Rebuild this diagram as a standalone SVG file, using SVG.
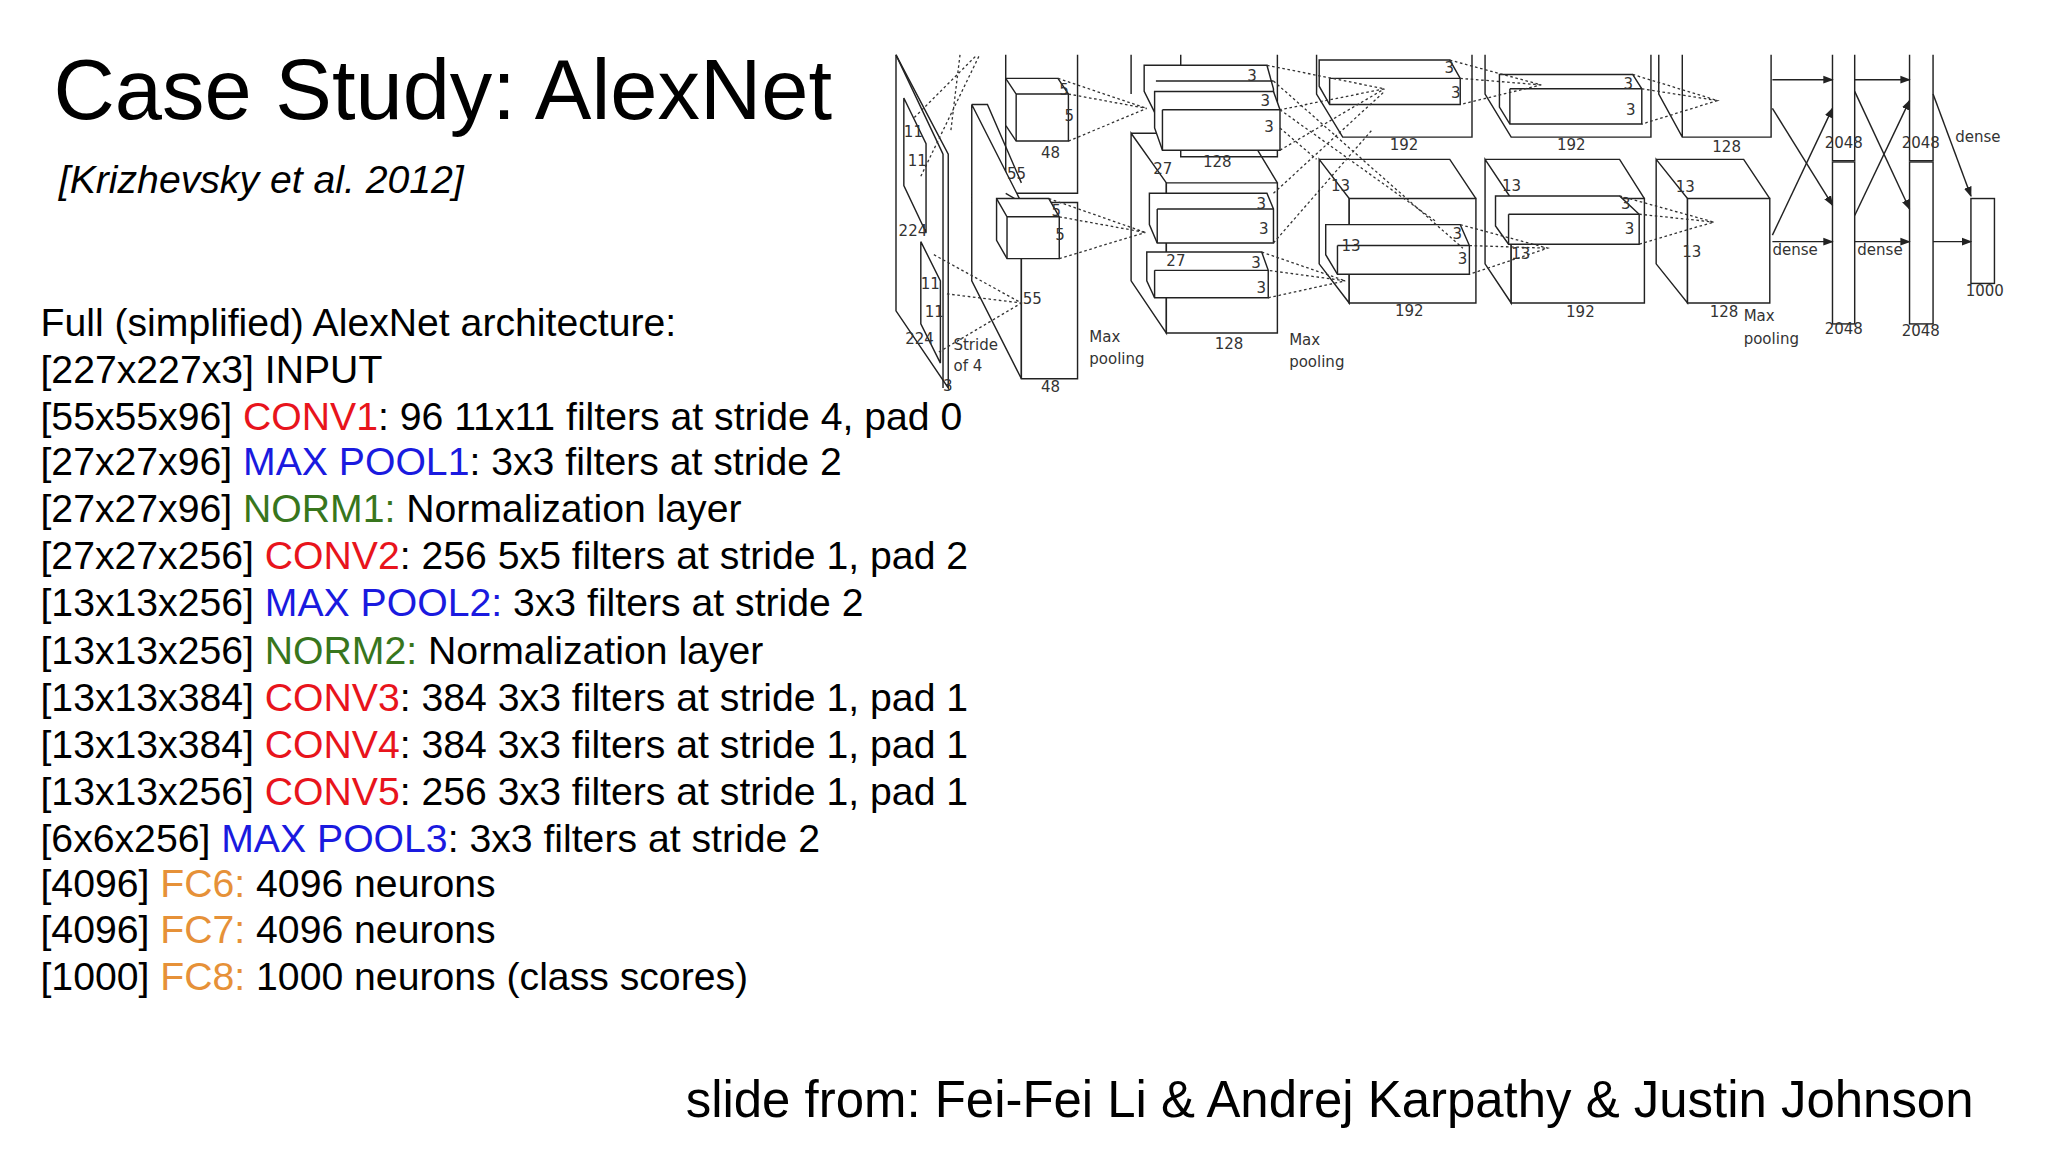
<svg xmlns="http://www.w3.org/2000/svg" width="2048" height="1152" viewBox="0 0 2048 1152">
<style>
.t{font-family:"Liberation Sans",Arial,sans-serif;fill:#000}
.r{fill:#e8141c}.b{fill:#1a1adf}.g{fill:#38761d}.o{fill:#e69138}
.s{fill:#fff;stroke:#222;stroke-width:1.1}
.l{fill:none;stroke:#222;stroke-width:1.1}
.d{fill:none;stroke:#333;stroke-width:1;stroke-dasharray:2 2}
.a{fill:none;stroke:#222;stroke-width:1.1;marker-end:url(#ah)}
.n{font-family:"DejaVu Sans",sans-serif;font-size:11.5px;fill:#333}
</style>
<defs><marker id="ah" markerWidth="8" markerHeight="8" refX="7" refY="4" orient="auto" markerUnits="userSpaceOnUse"><path d="M0,1 L8,4 L0,7 z" fill="#222"/></marker></defs>
<rect width="2048" height="1152" fill="#fff"/>
<g transform="scale(1.30612)">
<g id="title"><text class="t" x="41" y="91" font-size="65">Case Study: AlexNet</text>
<text class="t" x="45" y="148" font-size="30" font-style="italic">[Krizhevsky et al. 2012]</text></g>
<g id="list" class="t" font-size="30">
<text x="31" y="257">Full (simplified) AlexNet architecture:</text>
<text x="31" y="293">[227x227x3] INPUT</text>
<text x="31" y="329">[55x55x96] <tspan class="r">CONV1</tspan>: 96 11x11 filters at stride 4, pad 0</text>
<text x="31" y="364">[27x27x96] <tspan class="b">MAX POOL1</tspan>: 3x3 filters at stride 2</text>
<text x="31" y="400">[27x27x96] <tspan class="g">NORM1:</tspan> Normalization layer</text>
<text x="31" y="436">[27x27x256] <tspan class="r">CONV2</tspan>: 256 5x5 filters at stride 1, pad 2</text>
<text x="31" y="472">[13x13x256] <tspan class="b">MAX POOL2:</tspan> 3x3 filters at stride 2</text>
<text x="31" y="508">[13x13x256] <tspan class="g">NORM2:</tspan> Normalization layer</text>
<text x="31" y="544">[13x13x384] <tspan class="r">CONV3</tspan>: 384 3x3 filters at stride 1, pad 1</text>
<text x="31" y="580">[13x13x384] <tspan class="r">CONV4</tspan>: 384 3x3 filters at stride 1, pad 1</text>
<text x="31" y="616">[13x13x256] <tspan class="r">CONV5</tspan>: 256 3x3 filters at stride 1, pad 1</text>
<text x="31" y="652">[6x6x256] <tspan class="b">MAX POOL3</tspan>: 3x3 filters at stride 2</text>
<text x="31" y="687">[4096] <tspan class="o">FC6:</tspan> 4096 neurons</text>
<text x="31" y="722">[4096] <tspan class="o">FC7:</tspan> 4096 neurons</text>
<text x="31" y="758">[1000] <tspan class="o">FC8:</tspan> 1000 neurons (class scores)</text>
</g>
<g id="footer"><text class="t" x="525" y="855" font-size="39">slide from: Fei-Fei Li &amp; Andrej Karpathy &amp; Justin Johnson</text></g>

<g id="input">
<path class="s" d="M686,42 L726,118 L726,297 L686,238 Z"/>
<path class="l" d="M722,118 L722,297 M686,42 L722,118"/>
<path class="s" d="M692,75 L709,110 L709,178 L692,142 Z"/>
<path class="s" d="M705,185 L720,215 L720,278 L705,248 Z"/>
<text class="n" x="688" y="181">224</text><text class="n" x="693" y="263">224</text><text class="n" x="722" y="299">3</text>
<text class="n" x="692" y="105">11</text><text class="n" x="695" y="127">11</text><text class="n" x="705" y="221">11</text><text class="n" x="708" y="243">11</text>
<text class="n" x="730" y="268">Stride</text><text class="n" x="730" y="284">of 4</text>
</g>
<g id="conv1">
<path class="l" d="M770,42 L770,148 L825,148 L825,42"/>
<path class="s" d="M744,80 L782,155 L782,290 L744,215 Z"/>
<path class="s" d="M782,155 L825,155 L825,290 L782,290 Z"/>
<path class="l" d="M744,80 L756,80 L782,140 M770,148 L782,155"/>
<path class="s" d="M770,60 L810,60 L818,72 L818,108 L778,108 L770,96 Z"/><path class="l" d="M770,60 L778,72 L818,72 M778,72 L778,108"/>
<path class="s" d="M763,152 L803,152 L811,166 L811,198 L771,198 L763,184 Z"/><path class="l" d="M763,152 L771,166 L811,166 M771,166 L771,198"/>
<text class="n" x="811" y="73">5</text><text class="n" x="815" y="93">5</text><text class="n" x="797" y="121">48</text><text class="n" x="771" y="137">55</text>
<text class="n" x="805" y="165">5</text><text class="n" x="808" y="184">5</text><text class="n" x="783" y="233">55</text><text class="n" x="797" y="300">48</text>
</g>
<g id="conv2">
<path class="l" d="M866,42 L866,72 M904,42 L904,120 L978,120 L978,42"/>
<path class="s" d="M866,102 L893,140 L893,255 L866,215 Z"/>
<path class="s" d="M893,140 L978,140 L978,255 L893,255 Z"/>
<path class="l" d="M866,102 L955,102 L978,140"/>
<path class="s" d="M876,50 L970,50 L975,68 L975,88 L885,88 L876,70 Z"/><path class="l" d="M885,62 L975,62"/>
<path class="s" d="M884,70 L975,70 L980,84 L980,115 L890,115 L884,98 Z"/><path class="l" d="M890,84 L980,84 M890,84 L890,115"/>
<path class="s" d="M880,148 L970,148 L975,160 L975,186 L886,186 L880,172 Z"/><path class="l" d="M886,160 L975,160 M886,160 L886,186"/>
<path class="s" d="M878,193 L966,193 L971,207 L971,228 L884,228 L878,215 Z"/><path class="l" d="M884,207 L971,207 M884,207 L884,228"/>
<text class="n" x="955" y="62">3</text><text class="n" x="965" y="81">3</text><text class="n" x="968" y="101">3</text>
<text class="n" x="921" y="128">128</text><text class="n" x="883" y="133">27</text>
<text class="n" x="962" y="160">3</text><text class="n" x="964" y="179">3</text>
<text class="n" x="893" y="204">27</text><text class="n" x="958" y="205">3</text><text class="n" x="962" y="224">3</text>
<text class="n" x="930" y="267">128</text>
<text class="n" x="834" y="262">Max</text><text class="n" x="834" y="279">pooling</text>
<text class="n" x="987" y="264">Max</text><text class="n" x="987" y="281">pooling</text>
</g>
<g id="conv3">
<path class="l" d="M1008,42 L1008,72 L1028,105 L1127,105 L1127,42"/>
<path class="s" d="M1010,46 L1110,46 L1118,60 L1118,80 L1018,80 L1010,66 Z"/><path class="l" d="M1018,60 L1118,60 M1018,60 L1018,80"/>
<path class="s" d="M1010,122 L1033,152 L1033,232 L1010,202 Z"/>
<path class="s" d="M1033,152 L1130,152 L1130,232 L1033,232 Z"/>
<path class="l" d="M1010,122 L1110,122 L1130,152"/>
<path class="s" d="M1015,172 L1118,172 L1125,188 L1125,210 L1024,210 L1015,195 Z"/><path class="l" d="M1024,188 L1125,188 M1024,188 L1024,210"/>
<text class="n" x="1106" y="56">3</text><text class="n" x="1111" y="75">3</text><text class="n" x="1064" y="115">192</text>
<text class="n" x="1019" y="146">13</text><text class="n" x="1027" y="192">13</text><text class="n" x="1112" y="183">3</text><text class="n" x="1116" y="202">3</text>
<text class="n" x="1068" y="242">192</text>
</g>
<g id="conv4">
<path class="l" d="M1137,42 L1137,72 L1157,105 L1264,105 L1264,42"/>
<path class="s" d="M1148,57 L1250,57 L1257,68 L1257,95 L1156,95 L1148,82 Z"/><path class="l" d="M1156,68 L1257,68 M1156,68 L1156,95"/>
<path class="s" d="M1137,122 L1157,152 L1157,232 L1137,202 Z"/>
<path class="s" d="M1157,152 L1259,152 L1259,232 L1157,232 Z"/>
<path class="l" d="M1137,122 L1240,122 L1259,152"/>
<path class="s" d="M1145,150 L1240,150 L1255,164 L1255,187 L1155,187 L1145,173 Z"/><path class="l" d="M1155,164 L1255,164 M1155,164 L1155,187"/>
<text class="n" x="1243" y="68">3</text><text class="n" x="1245" y="88">3</text><text class="n" x="1192" y="115">192</text>
<text class="n" x="1150" y="146">13</text><text class="n" x="1157" y="198">13</text><text class="n" x="1241" y="160">3</text><text class="n" x="1244" y="179">3</text>
<text class="n" x="1199" y="243">192</text>
</g>
<g id="conv5">
<path class="l" d="M1270,42 L1270,72 L1288,105 L1356,105 L1356,42 M1288,42 L1288,105"/>
<path class="s" d="M1268,122 L1292,152 L1292,232 L1268,202 Z"/>
<path class="s" d="M1292,152 L1355,152 L1355,232 L1292,232 Z"/>
<path class="l" d="M1268,122 L1335,122 L1355,152"/>
<text class="n" x="1311" y="116">128</text>
<text class="n" x="1283" y="147">13</text><text class="n" x="1288" y="197">13</text><text class="n" x="1309" y="243">128</text>
<text class="n" x="1335" y="246">Max</text><text class="n" x="1335" y="263">pooling</text>
</g>
<g id="fc">
<path class="l" d="M1403,42 L1403,123 L1420,123 L1420,42"/>
<rect class="s" x="1403" y="124" width="17" height="124"/>
<path class="l" d="M1462,42 L1462,123 L1480,123 L1480,42"/>
<rect class="s" x="1462" y="124" width="18" height="124"/>
<rect class="s" x="1509" y="152" width="18" height="65"/>
<text class="n" x="1397" y="113">2048</text><text class="n" x="1397" y="256">2048</text>
<text class="n" x="1456" y="113">2048</text><text class="n" x="1456" y="257">2048</text>
<text class="n" x="1505" y="227">1000</text>
<text class="n" x="1357" y="195">dense</text><text class="n" x="1422" y="195">dense</text><text class="n" x="1497" y="109">dense</text>
</g>
<g id="connectors">
<path class="a" d="M1357,61 L1403,61"/><path class="a" d="M1420,61 L1462,61"/>
<path class="a" d="M1357,185 L1403,185"/><path class="a" d="M1420,185 L1462,185"/><path class="a" d="M1480,185 L1509,185"/>
<path class="a" d="M1357,83 L1403,157"/><path class="a" d="M1357,180 L1403,83"/>
<path class="a" d="M1420,70 L1462,160"/><path class="a" d="M1420,165 L1462,77"/>
<path class="a" d="M1480,72 L1509,150"/>
<path class="d" d="M700,90 L748,42 M705,135 L750,42 M735,42 L728,100"/>
<path class="d" d="M715,195 L782,232 L718,270 M725,225 L782,232"/>
<path class="d" d="M810,60 L878,83 M818,72 L878,83 M818,108 L878,83"/>
<path class="d" d="M803,152 L877,178 M811,166 L877,178 M811,198 L877,178"/>
<path class="d" d="M970,50 L1060,68 L980,84 M980,115 L1060,68"/>
<path class="d" d="M975,62 L1120,190 M980,84 L1100,170 M980,98 L1008,122"/>
<path class="d" d="M975,148 L1060,70 M975,186 L1050,100"/>
<path class="d" d="M966,193 L1030,215 L971,207 M971,228 L1030,215"/>
<path class="d" d="M1110,46 L1180,65 L1118,80 M1118,60 L1180,65"/>
<path class="d" d="M1118,172 L1185,190 L1125,210 M1125,188 L1185,190"/>
<path class="d" d="M1250,57 L1315,77 L1257,95 M1257,68 L1315,77"/>
<path class="d" d="M1240,150 L1312,170 L1255,187 M1255,164 L1312,170"/>
</g>
</g>
</svg>
